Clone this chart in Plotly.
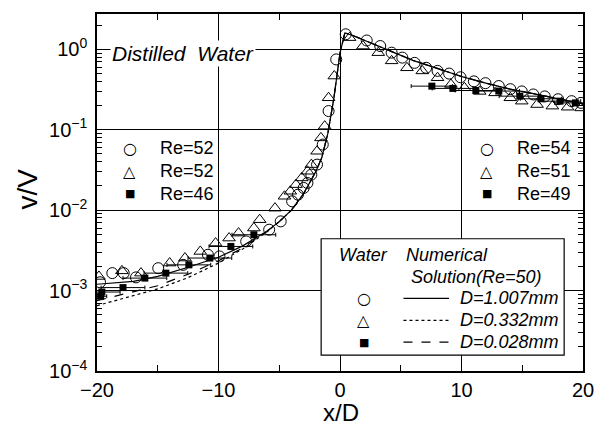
import plotly.graph_objects as go

# ---- data ----
circ_x = [-19.75, -18.74, -17.80, -16.79, -14.96, -12.91, -10.87, -9.92, -7.72, -5.83, -4.88, -3.94, -3.46, -2.99,
          -2.68, -2.36, -1.89, -1.42, -0.94, -0.31,
          0.47, 2.20, 3.31, 4.25, 5.13, 6.14, 7.09, 8.03, 8.98, 9.92, 11.02, 11.97, 13.07, 14.02, 14.96, 15.91,
          16.85, 17.95, 19.06, 19.84]
circ_y = [1.27e-3, 1.65e-3, 1.65e-3, 1.46e-3, 1.90e-3, 2.09e-3, 2.79e-3, 2.66e-3, 4.09e-3, 5.72e-3, 7.26e-3, 1.29e-2,
          1.56e-2, 1.89e-2, 2.18e-2, 2.77e-2, 3.69e-2, 6.55e-2, 0.171, 0.75,
          1.54, 1.29, 1.10, 0.91, 0.79, 0.68, 0.59, 0.54, 0.50, 0.45, 0.40, 0.38, 0.35, 0.32, 0.30, 0.275,
          0.26, 0.24, 0.227, 0.216]

tri_x = [-19.84, -17.95, -16.38, -14.02, -12.76, -11.50, -10.24, -9.13, -8.35, -7.09, -6.61, -5.35, -4.57, -4.09,
         -3.62, -3.15, -2.68, -2.36, -1.89, -1.57, -1.26, -0.94, -0.47,
         0.79, 1.89, 3.15, 4.25, 5.51, 6.77, 8.03, 9.13, 10.24, 11.50, 12.76, 14.02, 14.96, 16.22, 17.48, 18.74, 19.84]
tri_y = [1.50e-3, 1.76e-3, 1.65e-3, 2.20e-3, 2.54e-3, 3.07e-3, 3.90e-3, 4.50e-3, 5.19e-3, 6.00e-3, 7.62e-3, 1.06e-2,
         1.49e-2, 1.72e-2, 2.08e-2, 2.52e-2, 3.05e-2, 3.69e-2, 5.41e-2, 7.93e-2, 0.111, 0.25, 0.466,
         1.40, 1.10, 0.91, 0.72, 0.59, 0.54, 0.444, 0.366, 0.333, 0.30, 0.288, 0.25, 0.227, 0.206, 0.197, 0.191, 0.187]

sq_x = [-19.7, -19.6, -17.86, -16.06, -14.33, -12.44, -10.71, -8.98, -7.09,
        7.56, 9.29, 11.18, 13.07, 14.80, 16.54, 18.11, 19.37]
sq_y = [8.5e-4, 9.6e-4, 1.09e-3, 1.43e-3, 1.65e-3, 2.09e-3, 2.54e-3, 3.54e-3, 4.95e-3,
        0.349, 0.327, 0.308, 0.303, 0.262, 0.243, 0.227, 0.216]
sq_err = [0.5, 1.5, 1.8, 1.8, 1.8, 1.8, 1.8, 1.8, 1.8,
          1.7, 1.7, 1.7, 1.7, 1.7, 1.7, 1.7, 1.7]

num_x = [-20, -17, -15, -12.5, -10, -8, -6, -5, -4, -3, -2, -1.5, -1, -0.5, 0, 0.4,
         1, 2, 3, 4, 5, 6, 8, 10, 12, 14, 16, 18, 20]
sol_1007 = [1.2e-3, 1.3e-3, 1.5e-3, 1.95e-3, 2.6e-3, 3.6e-3, 5.5e-3, 7.2e-3, 1.0e-2, 1.6e-2, 3.0e-2, 4.5e-2, 0.09,
            0.25, 0.9, 1.6, 1.5, 1.3, 1.12, 0.97, 0.84, 0.73, 0.58, 0.46, 0.38, 0.32, 0.28, 0.24, 0.21]
sol_0332 = [6.5e-4, 8.6e-4, 1.05e-3, 1.45e-3, 2.2e-3, 3.3e-3, 5.4e-3, 7.2e-3, 1.0e-2, 1.6e-2, 3.0e-2, 4.5e-2, 0.09,
            0.25, 0.9, 1.6, 1.5, 1.3, 1.12, 0.97, 0.84, 0.73, 0.58, 0.46, 0.38, 0.32, 0.28, 0.24, 0.21]
sol_0028 = [7.5e-4, 9.6e-4, 1.15e-3, 1.6e-3, 2.35e-3, 3.4e-3, 5.45e-3, 7.2e-3, 1.0e-2, 1.6e-2, 3.0e-2, 4.5e-2, 0.09,
            0.25, 0.9, 1.6, 1.5, 1.3, 1.12, 0.97, 0.84, 0.73, 0.58, 0.46, 0.38, 0.32, 0.28, 0.24, 0.21]

y_tickvals = [1e-4, 1e-3, 1e-2, 1e-1, 1]
y_ticktext = ["10<sup>\u22124</sup>", "10<sup>\u22123</sup>", "10<sup>\u22122</sup>", "10<sup>\u22121</sup>", "10<sup>0</sup>"]
x_tickvals = [-20, -10, 0, 10, 20]
x_ticktext = ["\u221220", "\u221210", "0", "10", "20"]

left_leg = [("\u25CB", "Re=52"), ("\u25B3", "Re=52"), ("\u25A0", "Re=46")]
right_leg = [("\u25CB", "Re=54"), ("\u25B3", "Re=51"), ("\u25A0", "Re=49")]
box_leg = [("\u25CB", "solid", "D=1.007mm"), ("\u25B3", "dot", "D=0.332mm"), ("\u25A0", "dash", "D=0.028mm")]

FONT = "Liberation Sans, Arial, sans-serif"

fig = go.Figure()
fig.add_trace(go.Scatter(x=num_x, y=sol_0332, mode="lines", line=dict(color="black", width=1.2, dash="dot")))
fig.add_trace(go.Scatter(x=num_x, y=sol_0028, mode="lines", line=dict(color="black", width=1.2, dash="dash")))
fig.add_trace(go.Scatter(x=num_x, y=sol_1007, mode="lines", line=dict(color="black", width=1.2)))
fig.add_trace(go.Scatter(x=sq_x, y=sq_y, mode="markers",
                         marker=dict(symbol="square", size=7, color="black"),
                         error_x=dict(type="data", array=sq_err, color="black", thickness=1, width=2)))
fig.add_trace(go.Scatter(x=circ_x, y=circ_y, mode="markers",
                         marker=dict(symbol="circle-open", size=11, color="black", line=dict(width=1))))
fig.add_trace(go.Scatter(x=tri_x, y=tri_y, mode="markers",
                         marker=dict(symbol="triangle-up-open", size=11, color="black", line=dict(width=1))))

x0p, x1p, y0p, y1p = 97, 587, 12, 371
W, H = 606, 428
def px(x):
    return (x - x0p) / (x1p - x0p)
def py(y):
    return (y1p - y) / (y1p - y0p)

ann = []
ann.append(dict(text="<i>Distilled  Water</i>", x=px(110), y=py(52), xref="paper", yref="paper",
                xanchor="left", yanchor="middle", showarrow=False, bgcolor="white",
                font=dict(size=21, family=FONT, color="black")))
rows = [147, 170, 193]
for (sym, lab), yy in zip(left_leg, rows):
    ann.append(dict(text=sym, x=px(130), y=py(yy), xref="paper", yref="paper", showarrow=False,
                    xanchor="center", yanchor="middle",
                    font=dict(size=16 if sym != "\u25A0" else 11, family="DejaVu Sans", color="black")))
    ann.append(dict(text=lab, x=px(158), y=py(yy), xref="paper", yref="paper", showarrow=False,
                    xanchor="left", yanchor="middle", font=dict(size=18, family=FONT, color="black")))
for (sym, lab), yy in zip(right_leg, rows):
    ann.append(dict(text=sym, x=px(490), y=py(yy), xref="paper", yref="paper", showarrow=False,
                    xanchor="center", yanchor="middle",
                    font=dict(size=16 if sym != "\u25A0" else 11, family="DejaVu Sans", color="black")))
    ann.append(dict(text=lab, x=px(518), y=py(yy), xref="paper", yref="paper", showarrow=False,
                    xanchor="left", yanchor="middle", font=dict(size=18, family=FONT, color="black")))

shapes = [dict(type="rect", xref="paper", yref="paper", x0=px(323), x1=px(568), y0=py(355), y1=py(238),
               fillcolor="white", line=dict(color="black", width=1.2), layer="above")]
ann.append(dict(text="<i>Water</i>", x=px(366), y=py(254), xref="paper", yref="paper", showarrow=False,
                xanchor="center", yanchor="middle", font=dict(size=18, family=FONT, color="black")))
ann.append(dict(text="<i>Numerical</i>", x=px(407), y=py(254), xref="paper", yref="paper", showarrow=False,
                xanchor="left", yanchor="middle", font=dict(size=18, family=FONT, color="black")))
ann.append(dict(text="<i>Solution(Re=50)</i>", x=px(412), y=py(276), xref="paper", yref="paper", showarrow=False,
                xanchor="left", yanchor="middle", font=dict(size=18, family=FONT, color="black")))
brows = [298, 320, 342]
for (sym, dash, lab), yy in zip(box_leg, brows):
    ann.append(dict(text=sym, x=px(366), y=py(yy), xref="paper", yref="paper", showarrow=False,
                    xanchor="center", yanchor="middle",
                    font=dict(size=16 if sym != "\u25A0" else 11, family="DejaVu Sans", color="black")))
    shapes.append(dict(type="line", xref="paper", yref="paper", x0=px(406), x1=px(452), y0=py(yy), y1=py(yy),
                       line=dict(color="black", width=1.2, dash=dash), layer="above"))
    ann.append(dict(text="<i>" + lab + "</i>", x=px(565), y=py(yy), xref="paper", yref="paper", showarrow=False,
                    xanchor="right", yanchor="middle", font=dict(size=18, family=FONT, color="black")))

ann.append(dict(text="v/V", x=px(26), y=py(188), xref="paper", yref="paper", showarrow=False, textangle=-90,
                xanchor="center", yanchor="middle", font=dict(size=28, family=FONT, color="black")))
ann.append(dict(text="x/D", x=px(343), y=py(427.5), xref="paper", yref="paper", showarrow=False,
                xanchor="center", yanchor="bottom", borderpad=0,
                font=dict(size=24, family=FONT, color="black")))

fig.update_layout(
    width=W, height=H, margin=dict(l=x0p, r=W - x1p, t=y0p, b=H - y1p),
    paper_bgcolor="white", plot_bgcolor="white", showlegend=False,
    font=dict(family=FONT, color="black"),
    annotations=ann, shapes=shapes,
    xaxis=dict(range=[-20, 20], tickvals=x_tickvals, ticktext=x_ticktext, ticks="inside", ticklen=8,
               tickcolor="black", showline=True, linecolor="black", linewidth=1.5, mirror="allticks",
               showgrid=True, gridcolor="black", gridwidth=1, zeroline=False, ticklabelstandoff=0,
               tickfont=dict(size=20, family=FONT, color="black"),
               minor=dict(tickvals=[-15, -5, 5, 15], ticks="inside", ticklen=6, tickcolor="black", showgrid=False)),
    yaxis=dict(type="log", range=[-4, 0.44], tickvals=y_tickvals, ticktext=y_ticktext, ticks="inside", ticklen=8,
               tickcolor="black", showline=True, linecolor="black", linewidth=1.5, mirror="allticks",
               showgrid=True, gridcolor="black", gridwidth=1, zeroline=False, ticklabelstandoff=4,
               tickfont=dict(size=20, family=FONT, color="black"),
               minor=dict(dtick="D1", ticks="inside", ticklen=5, tickcolor="black", showgrid=False)),
)

fig.write_html("out.html")
